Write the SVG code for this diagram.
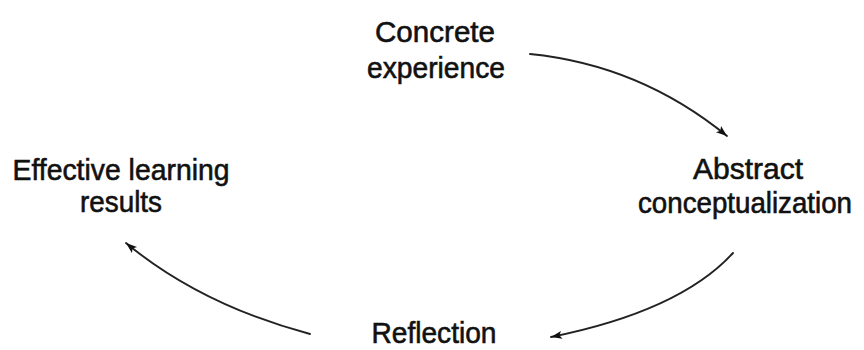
<svg xmlns="http://www.w3.org/2000/svg" width="864" height="350" viewBox="0 0 864 350">
<style>
.lbl{font-family:"Liberation Sans","Noto Sans",Arial,sans-serif;font-size:30px;fill:#111;text-anchor:middle;stroke:#111;stroke-width:0.6}
.conn{fill:none;stroke:#222;stroke-width:1.9;stroke-linecap:round}
</style>
<defs>
<marker id="ah" markerUnits="userSpaceOnUse" markerWidth="14" markerHeight="10" refX="11" refY="4" orient="auto">
<path d="M0,0 L11,4 L0,8 L2.5,4 Z" fill="#111"/>
</marker>
</defs>
<rect width="864" height="350" fill="#fff"/>
<g id="connectors">
<path class="conn" d="M530,54 Q640,65 727,136" marker-end="url(#ah)"/>
<path class="conn" d="M733,253 Q680,311 551,337" marker-end="url(#ah)"/>
<path class="conn" d="M310,334 Q201,305 126,243" marker-end="url(#ah)"/>
</g>
<g id="concrete">
<text class="lbl" x="435" y="42" textLength="120" lengthAdjust="spacingAndGlyphs">Concrete</text>
<text class="lbl" x="436" y="78" textLength="138" lengthAdjust="spacingAndGlyphs">experience</text>
</g>
<g id="abstract">
<text class="lbl" x="748" y="179" textLength="110" lengthAdjust="spacingAndGlyphs">Abstract</text>
<text class="lbl" x="745" y="213" style="font-size:29px" textLength="214" lengthAdjust="spacingAndGlyphs">conceptualization</text>
</g>
<g id="reflection">
<text class="lbl" x="434" y="343" textLength="125" lengthAdjust="spacingAndGlyphs">Reflection</text>
</g>
<g id="effective">
<text class="lbl" x="121" y="180" textLength="217" lengthAdjust="spacingAndGlyphs">Effective learning</text>
<text class="lbl" x="121" y="212" textLength="82" lengthAdjust="spacingAndGlyphs">results</text>
</g>
</svg>
